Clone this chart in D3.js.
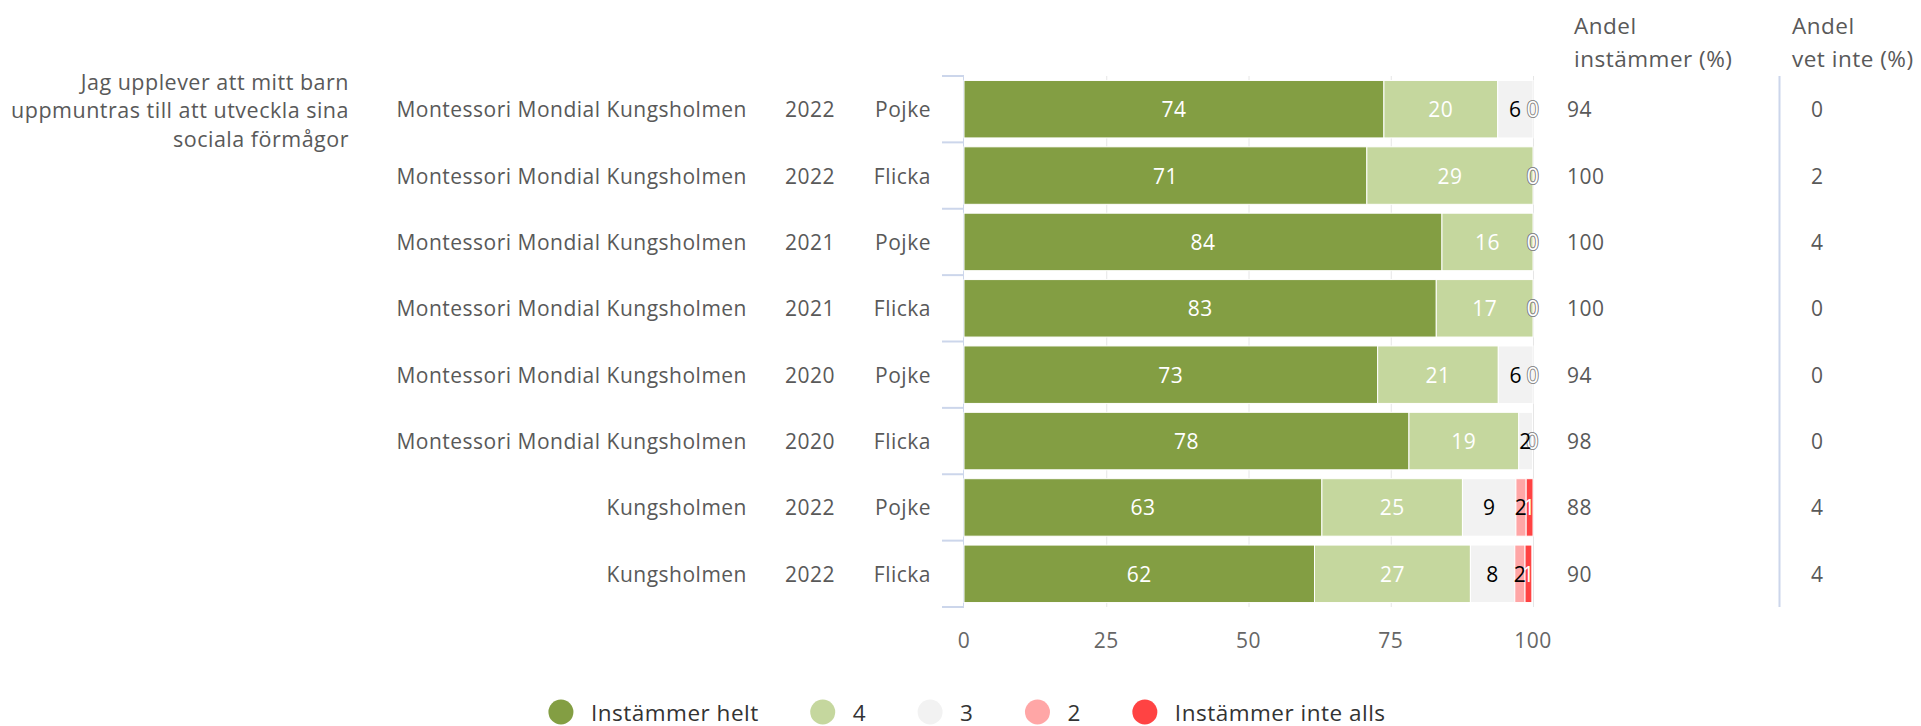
<!DOCTYPE html>
<html>
<head>
<meta charset="utf-8">
<script src="https://cdn.jsdelivr.net/npm/d3@7/dist/d3.min.js"></script>
<style>
  body { margin: 0; background: #fff; }
  text { font-family: "Open Sans", sans-serif; letter-spacing: 0.5px; }
</style>
</head>
<body>
<div id="chart"></div>
<script>
// datos
const fraga = ["Jag upplever att mitt barn", "uppmuntras till att utveckla sina", "sociala förmågor"];
const skolor = ["Montessori Mondial Kungsholmen", "Montessori Mondial Kungsholmen", "Montessori Mondial Kungsholmen",
  "Montessori Mondial Kungsholmen", "Montessori Mondial Kungsholmen", "Montessori Mondial Kungsholmen",
  "Kungsholmen", "Kungsholmen"];
const ar = ["2022", "2022", "2021", "2021", "2020", "2020", "2022", "2022"];
const kon = ["Pojke", "Flicka", "Pojke", "Flicka", "Pojke", "Flicka", "Pojke", "Flicka"];

const serier = ["Instämmer helt", "4", "3", "2", "Instämmer inte alls"];
const helt = [73.8, 70.8, 84, 83, 72.7, 78.2, 62.9, 61.6];
const fyra = [20, 29.2, 16, 17, 21.2, 19.3, 24.7, 27.4];
const tre = [6.2, 0, 0, 0, 6.1, 2.4, 9.4, 7.8];
const tva = [0, 0, 0, 0, 0, 0, 1.8, 1.8];
const inteAlls = [0, 0, 0, 0, 0, 0, 1.2, 1.2];

const andelInstammer = [94, 100, 100, 100, 94, 98, 88, 90];
const andelVetInte = [0, 2, 4, 0, 0, 0, 4, 4];
const xTicks = [0, 25, 50, 75, 100];

const colores = ["#839e43", "#c5d79e", "#f2f2f2", "#ffa6a6", "#ff4343"];
const colorEtiqueta = ["#ffffff", "#ffffff", "#000000", "#000000", "#ffffff"];

const WIDTH = 1921;
const HEIGHT = 726;

const SVG = d3.select("#chart").append("svg")
  .attr("width", WIDTH).attr("height", HEIGHT);

const x = d3.scaleLinear().domain([0, 100]).range([964, 1533]);
const y = d3.scaleBand().domain(d3.range(skolor.length)).range([76, 607])
  .paddingInner(0.134).paddingOuter(0.067);

// grilla
SVG.append("g").selectAll("line")
  .data(xTicks.slice(1))
  .join("line")
  .attr("x1", d => x(d) + 0.5).attr("x2", d => x(d) + 0.5)
  .attr("y1", 76).attr("y2", 607)
  .attr("stroke", "#e6e6e6").attr("stroke-width", 1);

// eje izquierdo con ticks entre categorias
const ejeY = SVG.append("g");
ejeY.append("line")
  .attr("x1", x(0) - 0.5).attr("x2", x(0) - 0.5)
  .attr("y1", 76).attr("y2", 607)
  .attr("stroke", "#ccd6eb");
ejeY.selectAll(".tick")
  .data(d3.range(skolor.length + 1))
  .join("line")
  .attr("class", "tick")
  .attr("x1", x(0) - 22).attr("x2", x(0))
  .attr("y1", i => 76 + i * y.step()).attr("y2", i => 76 + i * y.step())
  .attr("stroke", "#ccd6eb").attr("stroke-width", 2);

// barras apiladas
const tabla = skolor.map((s, i) => ({
  i: i,
  valores: [helt[i], fyra[i], tre[i], tva[i], inteAlls[i]]
}));

const segmentos = [];
tabla.forEach(fila => {
  let acc = 0;
  fila.valores.forEach((v, k) => {
    segmentos.push({ fila: fila.i, serie: k, x0: acc, x1: acc + v, v: v });
    acc += v;
  });
});

SVG.append("g").selectAll("rect")
  .data(segmentos.filter(d => d.v > 0))
  .join("rect")
  .attr("x", d => x(d.x0))
  .attr("y", d => y(d.fila))
  .attr("width", d => x(d.x1) - x(d.x0))
  .attr("height", y.bandwidth())
  .attr("fill", d => colores[d.serie])
  .attr("stroke", "#fff").attr("stroke-width", 1);

// etiquetas de datos
const etiquetas = SVG.append("g").attr("font-size", "21px");
etiquetas.selectAll("text.cero")
  .data(segmentos.filter(d => Math.round(d.v) === 0))
  .join("text")
  .attr("class", "cero")
  .attr("x", d => x((d.x0 + d.x1) / 2))
  .attr("y", d => y(d.fila) + y.bandwidth() / 2)
  .attr("text-anchor", "middle").attr("dominant-baseline", "central")
  .attr("fill", "#fff").attr("stroke", "#888").attr("stroke-width", 1.6)
  .attr("paint-order", "stroke")
  .text(d => d3.format(".0f")(d.v));
etiquetas.selectAll("text.valor")
  .data(segmentos.filter(d => Math.round(d.v) > 0))
  .join("text")
  .attr("class", "valor")
  .attr("x", d => x((d.x0 + d.x1) / 2))
  .attr("y", d => y(d.fila) + y.bandwidth() / 2)
  .attr("text-anchor", "middle").attr("dominant-baseline", "central")
  .attr("fill", d => colorEtiqueta[d.serie])
  .text(d => d3.format(".0f")(d.v));

// eje x
SVG.append("g").selectAll("text")
  .data(xTicks)
  .join("text")
  .attr("x", d => x(d)).attr("y", 640)
  .attr("text-anchor", "middle").attr("dominant-baseline", "central")
  .attr("font-size", "21px").attr("fill", "#666")
  .text(d => d);

// textos de categorias
const cat = SVG.append("g").attr("font-size", "21px").attr("fill", "#595959")
  .attr("text-anchor", "end").attr("dominant-baseline", "central");
const centroY = i => y(i) + y.bandwidth() / 2;
cat.selectAll(".skola").data(skolor).join("text").attr("class", "skola")
  .attr("x", 747).attr("y", (d, i) => centroY(i)).text(d => d);
cat.selectAll(".ar").data(ar).join("text").attr("class", "ar")
  .attr("x", 835).attr("y", (d, i) => centroY(i)).text(d => d);
cat.selectAll(".kon").data(kon).join("text").attr("class", "kon")
  .attr("x", 931).attr("y", (d, i) => centroY(i)).text(d => d);
cat.selectAll(".fraga").data(fraga).join("text").attr("class", "fraga")
  .attr("x", 349).attr("y", (d, i) => 81 + i * 28.5)
  .attr("font-size", "21.5px").text(d => d);

// columnas de la derecha
const col = SVG.append("g").attr("font-size", "21px").attr("fill", "#595959")
  .attr("dominant-baseline", "central");
col.append("text").attr("x", 1574).attr("y", 25).attr("font-size", "22.5px").text("Andel");
col.append("text").attr("x", 1574).attr("y", 58).attr("font-size", "22.5px").text("instämmer (%)");
col.append("text").attr("x", 1792).attr("y", 25).attr("font-size", "22.5px").text("Andel");
col.append("text").attr("x", 1792).attr("y", 58).attr("font-size", "22.5px").text("vet inte (%)");
col.selectAll(".inst").data(andelInstammer).join("text").attr("class", "inst")
  .attr("x", 1567).attr("y", (d, i) => centroY(i)).text(d => d);
col.selectAll(".vet").data(andelVetInte).join("text").attr("class", "vet")
  .attr("x", 1811).attr("y", (d, i) => centroY(i)).text(d => d);

SVG.append("line")
  .attr("x1", 1779.5).attr("x2", 1779.5).attr("y1", 76).attr("y2", 607)
  .attr("stroke", "#ccd6eb").attr("stroke-width", 2);

// leyenda
const leyenda = SVG.append("g");
const items = leyenda.selectAll("g").data(serier).join("g");
items.append("circle").attr("r", 12.5).attr("cy", 712).attr("fill", (d, k) => colores[k]);
items.append("text").attr("x", 30).attr("y", 712)
  .attr("dominant-baseline", "central").attr("font-size", "22.5px").attr("fill", "#333")
  .text(d => d);
let pos = 0;
items.each(function () {
  const g = d3.select(this);
  g.attr("transform", `translate(${pos},0)`);
  pos += 30 + g.select("text").node().getComputedTextLength() + 64;
});
const anchoLeyenda = pos - 64 + 12.5;
leyenda.attr("transform", `translate(${967 - anchoLeyenda / 2 + 12.5},0)`);
</script>
</body>
</html>
